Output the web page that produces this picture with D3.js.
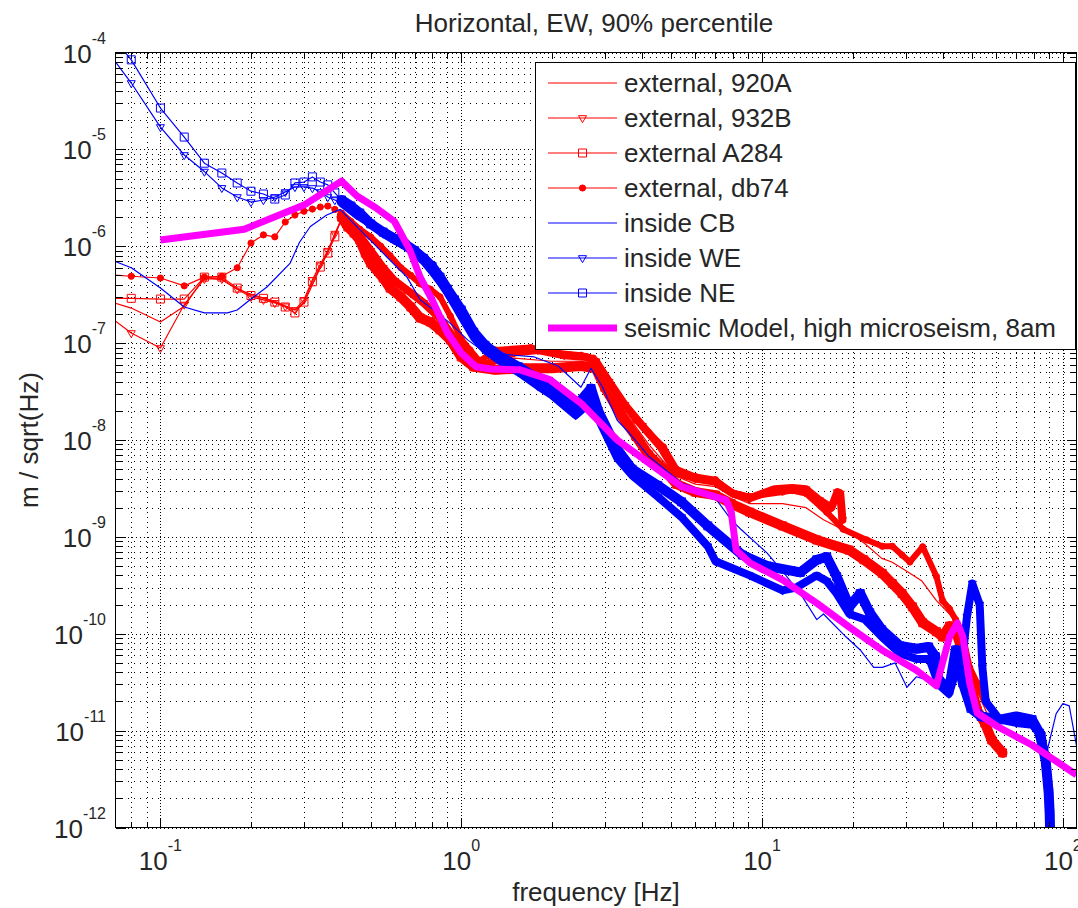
<!DOCTYPE html>
<html>
<head>
<meta charset="utf-8">
<title>Horizontal, EW, 90% percentile</title>
<script src="https://d3js.org/d3.v7.min.js"></script>
<style>
  body { margin: 0; background: #fff; }
  #chart svg { display: block; }
  text { font-family: "Liberation Sans", Arial, Helvetica, sans-serif; fill: #262626; }
</style>
</head>
<body>
<div id="chart"></div>
<script>
// values: [frequency Hz, amplitude m/sqrt(Hz)]
const ext920A = [
  [0.06, 3.0e-7], [0.08, 2.3e-7], [0.10, 1.65e-7], [0.12, 2.4e-7], [0.14, 4.8e-7], [0.16, 4.5e-7],
  [0.18, 3.6e-7], [0.20, 3.2e-7], [0.24, 2.7e-7], [0.28, 2.2e-7], [0.30, 2.6e-7], [0.34, 6.0e-7],
  [0.38, 1.3e-6], [0.40, 1.9e-6], [0.44, 1.5e-6], [0.50, 8.0e-7], [0.60, 4.5e-7], [0.70, 3.0e-7],
  [0.80, 2.2e-7], [0.90, 1.5e-7], [1.0, 9.0e-8], [1.2, 6.5e-8], [1.5, 7.0e-8], [2.0, 6.5e-8],
  [2.5, 6.5e-8], [2.8, 6.0e-8], [3.0, 4.0e-8], [3.4, 2.2e-8], [4.2, 9.0e-9], [5.2, 4.2e-9],
  [6.0, 3.5e-9], [7.0, 3.3e-9], [8.0, 2.6e-9], [9.1, 2.2e-9], [11.7, 2.2e-9], [14, 2.0e-9],
  [16, 1.5e-9], [19.5, 1.1e-9], [22, 8.5e-10], [25, 6.0e-10], [27, 5.5e-10], [30, 4.5e-10],
  [34, 3.5e-10], [38, 2.2e-10], [42, 1.6e-10], [45, 1.2e-10], [48, 5.0e-11], [52, 2.5e-11], [56, 1.5e-11]
];
const ext932B = [
  [0.06, 2.5e-7], [0.08, 1.27e-7], [0.10, 8.9e-8], [0.12, 2.5e-7], [0.14, 4.6e-7], [0.16, 4.6e-7],
  [0.18, 3.6e-7], [0.20, 3.0e-7], [0.22, 2.8e-7], [0.24, 2.6e-7], [0.26, 2.4e-7], [0.28, 2.2e-7],
  [0.30, 2.8e-7], [0.32, 4.5e-7], [0.34, 6.5e-7], [0.36, 9.0e-7], [0.38, 1.35e-6], [0.40, 1.9e-6],
  [0.42, 1.7e-6], [0.45, 1.4e-6], [0.50, 9.0e-7], [0.55, 6.0e-7], [0.60, 4.4e-7], [0.68, 3.3e-7],
  [0.75, 2.6e-7], [0.85, 1.8e-7], [0.95, 1.1e-7], [1.05, 7.5e-8], [1.2, 6.0e-8], [1.5, 8.0e-8],
  [1.8, 8.5e-8], [2.2, 7.5e-8], [2.6, 7.2e-8], [2.8, 6.5e-8], [3.1, 4.0e-8], [3.5, 2.3e-8],
  [4.0, 1.4e-8], [4.6, 8.5e-9], [5.2, 4.6e-9], [6.0, 4.0e-9], [7.0, 3.7e-9], [8.0, 2.8e-9],
  [9.1, 2.5e-9], [11, 3.1e-9], [12.6, 3.2e-9], [14, 3.1e-9], [15.5, 2.4e-9], [17, 2.0e-9],
  [17.8, 2.9e-9], [18.2, 2.8e-9], [18.5, 1.5e-9]
];
const extA284 = [
  [0.06, 2.9e-7], [0.08, 2.9e-7], [0.10, 2.85e-7], [0.12, 2.85e-7], [0.14, 4.8e-7], [0.16, 4.8e-7],
  [0.18, 3.7e-7], [0.20, 3.1e-7], [0.22, 2.9e-7], [0.24, 2.65e-7], [0.26, 2.36e-7], [0.28, 2.05e-7],
  [0.30, 2.65e-7], [0.32, 4.3e-7], [0.34, 6.1e-7], [0.36, 8.5e-7], [0.38, 1.25e-6], [0.40, 2.0e-6],
  [0.42, 1.58e-6], [0.44, 1.37e-6], [0.46, 1.16e-6], [0.48, 8.5e-7], [0.50, 6.7e-7], [0.55, 4.7e-7],
  [0.58, 3.7e-7], [0.63, 3.0e-7], [0.68, 2.36e-7], [0.73, 1.82e-7], [0.79, 1.65e-7], [0.85, 1.37e-7],
  [0.92, 1.08e-7], [1.0, 7.2e-8], [1.1, 5.7e-8], [1.3, 5.3e-8], [1.6, 5.5e-8], [2.0, 5.5e-8],
  [2.5, 5.8e-8], [2.8, 5.5e-8], [3.0, 3.5e-8], [3.4, 1.8e-8], [3.8, 1.1e-8], [4.2, 7.0e-9],
  [4.7, 5.0e-9], [5.2, 3.5e-9], [6.0, 2.9e-9], [7.0, 2.7e-9], [7.9, 2.2e-9], [9.1, 1.8e-9],
  [11.7, 1.3e-9], [15.2, 9.3e-10], [19.5, 7.3e-10], [21.8, 5.8e-10], [25.1, 4.2e-10], [27.1, 3.3e-10],
  [29.2, 2.6e-10], [31.6, 1.9e-10], [34.2, 1.3e-10], [38, 1.05e-10], [39.8, 9.3e-11], [42, 1.2e-10],
  [44, 1.1e-10], [46, 7.0e-11], [48, 4.0e-11], [50, 2.5e-11], [52, 1.6e-11], [55, 1.2e-11],
  [58, 8.0e-12], [63, 5.9e-12]
];
const extDb74 = [
  [0.06, 5.2e-7], [0.08, 4.9e-7], [0.10, 4.7e-7], [0.12, 3.9e-7], [0.14, 4.8e-7], [0.16, 4.9e-7],
  [0.18, 6.0e-7], [0.20, 1.08e-6], [0.22, 1.31e-6], [0.24, 1.25e-6], [0.26, 1.78e-6], [0.28, 2.1e-6],
  [0.30, 2.3e-6], [0.32, 2.42e-6], [0.34, 2.54e-6], [0.36, 2.6e-6], [0.38, 2.4e-6], [0.40, 2.2e-6],
  [0.43, 1.8e-6], [0.46, 1.5e-6], [0.50, 1.25e-6], [0.54, 1.0e-6], [0.58, 8.0e-7], [0.63, 6.0e-7],
  [0.68, 5.0e-7], [0.73, 4.1e-7], [0.79, 3.6e-7], [0.85, 3.0e-7], [0.92, 1.9e-7], [1.0, 1.1e-7],
  [1.07, 8.5e-8], [1.15, 6.5e-8], [1.3, 8.5e-8], [1.7, 9.0e-8], [2.1, 7.9e-8], [2.5, 7.5e-8],
  [2.75, 7.0e-8], [3.0, 4.5e-8], [3.4, 2.6e-8], [3.8, 1.6e-8], [4.2, 1.2e-8], [4.7, 8.5e-9],
  [5.2, 5.0e-9], [6.0, 4.2e-9], [7.0, 3.9e-9], [7.9, 2.9e-9], [9.1, 2.6e-9], [11.7, 2.9e-9],
  [12.6, 3.0e-9], [14, 2.8e-9], [16.4, 1.8e-9], [18.6, 1.2e-9], [22.3, 9.3e-10], [25.1, 8.0e-10],
  [27.1, 8.0e-10], [29.2, 6.5e-10], [31, 5.5e-10], [34.2, 7.9e-10], [38, 3.9e-10], [39.8, 2.2e-10],
  [42, 1.8e-10], [44, 1.4e-10], [46.5, 9.5e-11], [49, 4.5e-11], [51.9, 3.1e-11], [55, 2.0e-11]
];
const insideCB = [
  [0.06, 8.5e-7], [0.08, 6.0e-7], [0.10, 3.7e-7], [0.12, 2.36e-7], [0.14, 2.05e-7], [0.167, 2.05e-7],
  [0.18, 2.2e-7], [0.20, 2.85e-7], [0.226, 3.8e-7], [0.27, 6.7e-7], [0.29, 1.1e-6], [0.315, 1.6e-6],
  [0.357, 2.1e-6], [0.396, 2.4e-6], [0.437, 1.74e-6], [0.486, 1.25e-6], [0.567, 7.7e-7], [0.66, 4.8e-7],
  [0.73, 2.8e-7], [0.81, 2.2e-7], [0.92, 1.6e-7], [1.05, 1.08e-7], [1.2, 8.0e-8], [1.5, 7.5e-8],
  [1.75, 7.2e-8], [2.1, 5.8e-8], [2.5, 3.5e-8], [2.7, 5.5e-8], [2.95, 3.5e-8], [3.3, 1.6e-8],
  [3.6, 1.2e-8], [4.2, 6.8e-9], [5.4, 3.6e-9], [6.6, 2.9e-9], [7.0, 2.5e-9], [7.9, 1.5e-9],
  [8.5, 1.2e-9], [10.4, 6.8e-10], [12, 4.0e-10], [13.4, 2.6e-10], [15.2, 1.4e-10], [16, 1.6e-10],
  [19, 9.3e-11], [21.2, 6.8e-11], [23.5, 4.5e-11], [25.1, 4.5e-11], [27.7, 5.0e-11], [30.3, 2.8e-11],
  [32.6, 3.6e-11], [35.8, 3.3e-11], [38, 3.5e-11], [42, 3.0e-11], [45, 4.0e-11], [48, 2.5e-11],
  [52, 1.6e-11], [60, 1.4e-11], [70, 1.5e-11], [80, 1.2e-11], [87, 7.5e-12], [89, 6.5e-12],
  [95, 1.5e-11], [100, 1.9e-11], [105, 1.8e-11], [111, 7.0e-12]
];
const insideWE = [
  [0.06, 1.6e-4], [0.08, 4.84e-5], [0.10, 1.70e-5], [0.12, 8.75e-6], [0.14, 5.9e-6], [0.16, 4.0e-6],
  [0.18, 3.22e-6], [0.20, 2.86e-6], [0.22, 3.0e-6], [0.24, 3.22e-6], [0.26, 3.63e-6], [0.28, 4.09e-6],
  [0.30, 4.09e-6], [0.32, 3.99e-6], [0.34, 3.63e-6], [0.36, 3.22e-6], [0.38, 3.0e-6], [0.40, 2.79e-6],
  [0.45, 2.1e-6], [0.50, 1.7e-6], [0.55, 1.35e-6], [0.60, 1.15e-6], [0.65, 1.0e-6], [0.70, 8.5e-7],
  [0.75, 7.0e-7], [0.80, 5.5e-7], [0.85, 4.3e-7], [0.90, 3.3e-7], [0.95, 2.5e-7], [1.0, 1.9e-7],
  [1.1, 1.15e-7], [1.2, 8.5e-8], [1.35, 6.5e-8], [1.55, 5.0e-8], [1.8, 3.6e-8], [2.0, 2.9e-8],
  [2.4, 1.8e-8], [2.7, 2.5e-8], [2.9, 1.5e-8], [3.3, 6.5e-9], [3.7, 4.3e-9], [4.5, 2.6e-9],
  [5.4, 1.6e-9], [6.6, 8.0e-10], [7.0, 5.6e-10], [9.1, 4.0e-10], [11.7, 2.8e-10], [13, 3.0e-10],
  [15.2, 4.0e-10], [16.4, 3.5e-10], [17.7, 2.6e-10], [19.5, 1.6e-10], [22, 1.4e-10], [25, 9.3e-11],
  [28.7, 6.3e-11], [32.6, 5.5e-11], [36, 5.5e-11], [38.6, 3.0e-11], [41.8, 2.4e-11], [44, 4.0e-11],
  [46.5, 6.0e-11], [48, 1.5e-10], [50, 3.3e-10], [52.9, 2.0e-10], [54, 4.5e-11], [55.4, 2.0e-11],
  [61.7, 1.3e-11], [70, 1.2e-11], [79, 1.15e-11], [85, 9.0e-12], [88, 4.0e-12]
];
const insideNE = [
  [0.06, 2.5e-4], [0.08, 8.4e-5], [0.10, 2.67e-5], [0.12, 1.34e-5], [0.14, 7.2e-6], [0.16, 5.7e-6],
  [0.18, 4.5e-6], [0.20, 3.7e-6], [0.22, 3.46e-6], [0.24, 3.07e-6], [0.26, 3.38e-6], [0.28, 4.5e-6],
  [0.30, 4.6e-6], [0.32, 5.2e-6], [0.34, 4.6e-6], [0.36, 4.3e-6], [0.38, 3.55e-6], [0.40, 3.0e-6],
  [0.43, 2.6e-6], [0.46, 2.2e-6], [0.50, 1.7e-6], [0.55, 1.4e-6], [0.60, 1.2e-6], [0.65, 1.05e-6],
  [0.70, 9.0e-7], [0.75, 7.5e-7], [0.80, 6.2e-7], [0.85, 4.8e-7], [0.90, 3.6e-7], [0.95, 2.8e-7],
  [1.0, 2.2e-7], [1.1, 1.3e-7], [1.2, 9.5e-8], [1.35, 7.2e-8], [1.55, 5.7e-8], [1.8, 4.2e-8],
  [2.0, 3.3e-8], [2.4, 2.2e-8], [2.7, 3.4e-8], [2.85, 2.0e-8], [3.3, 8.0e-9], [3.7, 5.0e-9],
  [4.5, 3.4e-9], [5.4, 2.3e-9], [6.6, 1.3e-9], [8.6, 6.5e-10], [10.4, 5.0e-10], [13.4, 4.3e-10],
  [15.2, 5.8e-10], [16.4, 6.2e-10], [17.7, 3.9e-10], [19.5, 1.9e-10], [21.2, 2.6e-10], [22.8, 1.65e-10],
  [25, 1.1e-10], [28.7, 7.5e-11], [32.6, 7.0e-11], [35.8, 7.3e-11], [37.7, 5.8e-11], [38.6, 3.4e-11],
  [41.8, 2.6e-11], [44, 6.8e-11], [46.5, 3.1e-11], [49.5, 1.7e-11], [53.5, 1.4e-11], [61.7, 1.3e-11],
  [70, 1.4e-11], [79, 1.3e-11], [83.7, 9.4e-12], [87.6, 5.0e-12], [89.7, 2.3e-12], [90.4, 1.4e-12],
  [91, 6.0e-13]
];
const seismicModel = [
  [0.1, 1.16e-6], [0.19, 1.5e-6], [0.30, 2.66e-6], [0.40, 4.7e-6], [0.45, 3.3e-6], [0.52, 2.5e-6],
  [0.60, 1.8e-6], [0.675, 9.1e-7], [0.73, 4.8e-7], [0.80, 2.8e-7], [0.90, 1.27e-7], [1.0, 7.9e-8],
  [1.12, 5.7e-8], [1.25, 5.4e-8], [1.57, 5.3e-8], [1.97, 4.2e-8], [2.5, 2.4e-8], [3.3, 1.0e-8],
  [4.2, 5.8e-9], [5.4, 3.3e-9], [7.6, 2.4e-9], [7.9, 1.8e-9], [8.2, 7.3e-10], [9.1, 5.4e-10],
  [11.7, 3.6e-10], [15.2, 2.07e-10], [19.5, 1.17e-10], [25, 6.8e-11], [32.6, 4.2e-11], [38, 2.9e-11],
  [39.8, 5.0e-11], [42, 9.3e-11], [44.6, 1.29e-10], [46.5, 9.3e-11], [49, 3.1e-11], [51.9, 1.52e-11],
  [61, 1.09e-11], [79, 7.1e-12], [111, 3.5e-12]
];

const freqLimits = [0.0709, 111];
const ampLimits = [1e-12, 1e-4];
const freqTicks = [0.1, 1, 10, 100];
const ampTicks = [1e-12, 1e-11, 1e-10, 1e-9, 1e-8, 1e-7, 1e-6, 1e-5, 1e-4];

const series = [
  {name: "external, 920A", data: ext920A, color: "#ff0000", marker: null},
  {name: "external, 932B", data: ext932B, color: "#ff0000", marker: "triangle"},
  {name: "external A284", data: extA284, color: "#ff0000", marker: "square"},
  {name: "external, db74", data: extDb74, color: "#ff0000", marker: "dot"},
  {name: "inside CB", data: insideCB, color: "#0000ff", marker: null},
  {name: "inside WE", data: insideWE, color: "#0000ff", marker: "triangle"},
  {name: "inside NE", data: insideNE, color: "#0000ff", marker: "square"},
  {name: "seismic Model, high microseism, 8am", data: seismicModel, color: "#ff00ff", marker: null, thick: true}
];

function drawChart(container) {
    let width = 1078, height = 908;
    let left = 115.5, right = 1076.5, top = 52.5, bottom = 827.5;

    let x = d3.scaleLog().domain(freqLimits).range([left, right]);
    let y = d3.scaleLog().domain(ampLimits).range([bottom, top]);

    let svg = d3.select(container).append("svg")
        .attr("width", width)
        .attr("height", height)
        .attr("viewBox", [0, 0, width, height]);

    svg.append("rect").attr("width", width).attr("height", height).attr("fill", "#fff");

    // minor positions of the log axes
    let minorFreq = [];
    for (let e = -2; e <= 2; e++)
        for (let m = 2; m <= 9; m++) {
            let v = m * Math.pow(10, e);
            if (v > freqLimits[0] && v < freqLimits[1]) minorFreq.push(v);
        }
    let minorAmp = [];
    for (let e = -12; e <= -5; e++)
        for (let m = 2; m <= 9; m++) minorAmp.push(m * Math.pow(10, e));

    // dotted grid
    let grid = svg.append("g").attr("stroke", "#000").attr("stroke-width", 1).attr("shape-rendering", "crispEdges");
    grid.selectAll(".gx-minor").data(minorFreq).join("line")
        .attr("x1", d => Math.round(x(d)) + 0.5).attr("x2", d => Math.round(x(d)) + 0.5)
        .attr("y1", bottom).attr("y2", top)
        .attr("stroke-dasharray", "1,4");
    grid.selectAll(".gx-major").data(freqTicks).join("line")
        .attr("x1", d => Math.round(x(d)) + 0.5).attr("x2", d => Math.round(x(d)) + 0.5)
        .attr("y1", bottom).attr("y2", top)
        .attr("stroke-dasharray", "1,2");
    grid.selectAll(".gy-minor").data(minorAmp).join("line")
        .attr("y1", d => Math.round(y(d)) + 0.5).attr("y2", d => Math.round(y(d)) + 0.5)
        .attr("x1", left).attr("x2", right)
        .attr("stroke-dasharray", "1,5");
    grid.selectAll(".gy-major").data(ampTicks).join("line")
        .attr("y1", d => Math.round(y(d)) + 0.5).attr("y2", d => Math.round(y(d)) + 0.5)
        .attr("x1", left).attr("x2", right)
        .attr("stroke-dasharray", "1,3");

    svg.append("clipPath").attr("id", "plot-clip")
        .append("rect").attr("x", left).attr("y", top).attr("width", right - left).attr("height", bottom - top);

    let line = d3.line().x(d => x(d[0])).y(d => y(d[1]));
    let symbols = {
        square: d3.symbol().type(d3.symbolSquare).size(64),
        triangle: d3.symbol().type(d3.symbolTriangle).size(28),
        dot: d3.symbol().type(d3.symbolCircle).size(30)
    };
    let bandWidth = {square: 10, triangle: 8, dot: 6};
    let markerAttrs = (sel, s) => sel
        .attr("d", symbols[s.marker]())
        .attr("fill", s.marker === "dot" ? s.color : "none")
        .attr("stroke", s.color)
        .attr("stroke-width", 1);

    let plot = svg.append("g").attr("clip-path", "url(#plot-clip)");
    series.forEach(s => {
        let g = plot.append("g");
        g.append("path").datum(s.data)
            .attr("fill", "none")
            .attr("stroke", s.color)
            .attr("stroke-width", s.thick ? 7 : 1.2)
            .attr("stroke-linejoin", "round")
            .attr("d", line);
        if (s.marker) {
            // at higher frequencies the samples are so dense the markers merge into a band
            g.append("path").datum(s.data.filter(d => d[0] >= 0.4))
                .attr("fill", "none")
                .attr("stroke", s.color)
                .attr("stroke-width", bandWidth[s.marker])
                .attr("stroke-linejoin", "round")
                .attr("stroke-linecap", "round")
                .attr("d", line);
            g.selectAll("path.mk").data(s.data).join("path")
                .attr("class", "mk")
                .call(markerAttrs, s)
                .attr("transform", d => `translate(${x(d[0])},${y(d[1])})` + (s.marker === "triangle" ? " rotate(180)" : ""));
        }
    });

    // axes box and inward ticks
    let axes = svg.append("g").attr("stroke", "#000").attr("stroke-width", 1).attr("shape-rendering", "crispEdges");
    axes.append("rect").attr("x", left).attr("y", top).attr("width", right - left).attr("height", bottom - top).attr("fill", "none");
    let tickX = (vals, len) => {
        axes.selectAll(null).data(vals).join("line")
            .attr("x1", d => Math.round(x(d)) + 0.5).attr("x2", d => Math.round(x(d)) + 0.5)
            .attr("y1", bottom).attr("y2", bottom - len);
        axes.selectAll(null).data(vals).join("line")
            .attr("x1", d => Math.round(x(d)) + 0.5).attr("x2", d => Math.round(x(d)) + 0.5)
            .attr("y1", top).attr("y2", top + len);
    };
    let tickY = (vals, len) => {
        axes.selectAll(null).data(vals).join("line")
            .attr("y1", d => Math.round(y(d)) + 0.5).attr("y2", d => Math.round(y(d)) + 0.5)
            .attr("x1", left).attr("x2", left + len);
        axes.selectAll(null).data(vals).join("line")
            .attr("y1", d => Math.round(y(d)) + 0.5).attr("y2", d => Math.round(y(d)) + 0.5)
            .attr("x1", right).attr("x2", right - len);
    };
    tickX(minorFreq, 6);
    tickX(freqTicks, 10);
    tickY(minorAmp, 6);
    tickY(ampTicks, 10);

    // tick labels as 10 with a superscript exponent
    let powerLabel = (sel) => {
        sel.append("tspan").text("10");
        sel.append("tspan").attr("dy", -19).attr("font-size", 16).text(d => Math.round(Math.log10(d)));
    };
    svg.append("g").selectAll("text").data(freqTicks).join("text")
        .attr("x", d => x(d))
        .attr("y", 870)
        .attr("text-anchor", "middle")
        .attr("font-size", 26)
        .call(powerLabel);
    svg.append("g").selectAll("text").data(ampTicks).join("text")
        .attr("x", 106)
        .attr("y", d => y(d) + 10)
        .attr("text-anchor", "end")
        .attr("font-size", 26)
        .call(powerLabel);

    svg.append("text")
        .attr("x", (left + right) / 2 - 2)
        .attr("y", 32)
        .attr("text-anchor", "middle")
        .attr("font-size", 26)
        .text("Horizontal, EW, 90% percentile");
    svg.append("text")
        .attr("x", (left + right) / 2)
        .attr("y", 901)
        .attr("text-anchor", "middle")
        .attr("font-size", 26)
        .text("frequency [Hz]");
    svg.append("text")
        .attr("transform", `translate(38,${(top + bottom) / 2}) rotate(-90)`)
        .attr("text-anchor", "middle")
        .attr("font-size", 26)
        .text("m / sqrt(Hz)");

    // legend
    let legend = svg.append("g");
    legend.append("rect")
        .attr("x", 535.5).attr("y", 62.5).attr("width", 540).attr("height", 287)
        .attr("fill", "#fff").attr("stroke", "#000").attr("shape-rendering", "crispEdges");
    let rows = legend.selectAll("g").data(series).join("g")
        .attr("transform", (d, i) => `translate(0,${83 + 35 * i})`);
    rows.append("line")
        .attr("x1", 548).attr("x2", 617)
        .attr("stroke", d => d.color)
        .attr("stroke-width", d => d.thick ? 7 : 1.2);
    rows.filter(d => d.marker).each(function(s) {
        d3.select(this).append("path")
            .call(markerAttrs, s)
            .attr("transform", "translate(582.5,0)" + (s.marker === "triangle" ? " rotate(180)" : ""));
    });
    rows.append("text")
        .attr("x", 624).attr("y", 9)
        .attr("font-size", 26)
        .text(d => d.name);
}

drawChart(document.getElementById("chart"));
</script>
</body>
</html>
